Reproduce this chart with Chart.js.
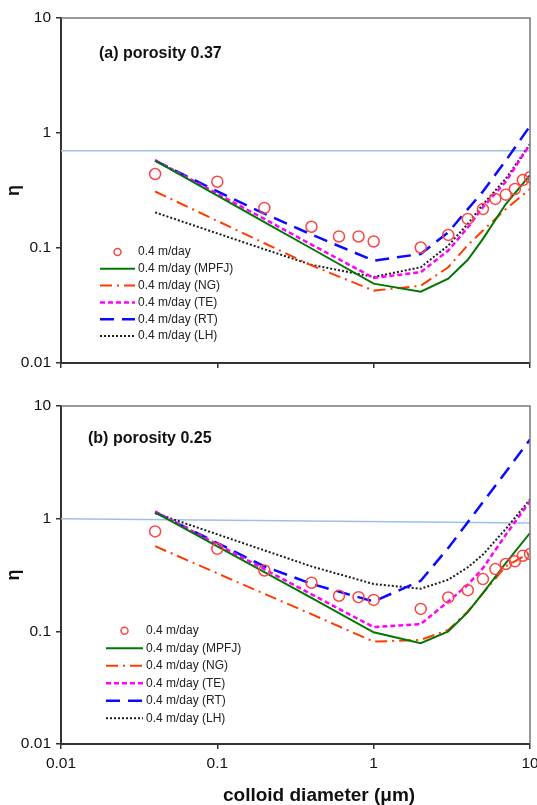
<!DOCTYPE html>
<html>
<head>
<meta charset="utf-8">
<script src="https://cdn.jsdelivr.net/npm/chart.js@4"></script>
<style>
  body { margin: 0; background: #fff; }
  #wrap { position: relative; width: 537px; height: 805px; font-family: 'Liberation Sans', Arial, sans-serif; }
  .panel { position: absolute; left: 0; width: 537px; }
  #boxA { top: 0; height: 385px; }
  #boxB { top: 385px; height: 420px; }
  .lbl { position: absolute; font-weight: bold; font-size: 16px; color: #111; white-space: nowrap; line-height: normal; }
</style>
</head>
<body>
<div id="wrap">
  <div class="panel" id="boxA"><canvas id="chartA"></canvas></div>
  <div class="panel" id="boxB"><canvas id="chartB"></canvas></div>
  <div class="lbl" style="left:99px; top:44px;">(a) porosity 0.37</div>
  <div class="lbl" style="left:88px; top:429px;">(b) porosity 0.25</div>
  <div class="lbl" style="left:223px; top:784px; font-size:19px;">colloid diameter (μm)</div>
</div>
<script>
// colloid diameters (um)
const diamLine = [0.04, 0.1, 0.2, 0.4, 1, 2, 3, 4, 5, 7, 10];
const diamObs = [0.04, 0.1, 0.2, 0.4, 0.6, 0.8, 1, 2, 3, 4, 5, 6, 7, 8, 9, 10];
const refDiam = [0.01, 10];
const decades = [0.01, 0.1, 1, 10];

// (a) porosity 0.37
const obsA  = [0.44, 0.377, 0.223, 0.153, 0.126, 0.126, 0.114, 0.101, 0.13, 0.179, 0.218, 0.267, 0.291, 0.326, 0.39, 0.412];
const mpfjA = [0.575, 0.286, 0.168, 0.099, 0.049, 0.0417, 0.054, 0.079, 0.12, 0.241, 0.43];
const ngA   = [0.31, 0.172, 0.110, 0.0706, 0.0426, 0.047, 0.068, 0.106, 0.142, 0.218, 0.326];
const teA   = [0.58, 0.296, 0.179, 0.107, 0.055, 0.0616, 0.095, 0.151, 0.226, 0.377, 0.80];
const rtA   = [0.575, 0.31, 0.199, 0.131, 0.0776, 0.0887, 0.137, 0.218, 0.31, 0.575, 1.15];
const lhA   = [0.204, 0.134, 0.0975, 0.0714, 0.056, 0.068, 0.105, 0.162, 0.24, 0.40, 0.80];
const refA  = [0.70, 0.70];

// (b) porosity 0.25
const obsB  = [0.77, 0.54, 0.347, 0.27, 0.207, 0.201, 0.19, 0.158, 0.2, 0.232, 0.291, 0.357, 0.396, 0.418, 0.469, 0.485];
const mpfjB = [1.14, 0.569, 0.336, 0.198, 0.098, 0.0785, 0.10, 0.148, 0.218, 0.404, 0.746];
const ngB   = [0.57, 0.327, 0.215, 0.142, 0.081, 0.084, 0.103, 0.15, 0.218, 0.377, 0.50];
const teB   = [1.16, 0.591, 0.356, 0.213, 0.109, 0.116, 0.184, 0.259, 0.364, 0.72, 1.43];
const rtB   = [1.14, 0.608, 0.377, 0.264, 0.184, 0.281, 0.55, 0.93, 1.4, 2.6, 5.04];
const lhB   = [1.12, 0.726, 0.523, 0.377, 0.263, 0.239, 0.287, 0.37, 0.48, 0.81, 1.48];
const refB  = [1.0, 0.915];

const FONT = "'Liberation Sans', Arial, sans-serif";
Chart.defaults.font.family = FONT;
Chart.defaults.color = '#111';

function pts(xs, ys) {
  return xs.map((d, i) => ({ x: d, y: ys[i] }));
}

function curve(label, ys, color, dash, width) {
  return {
    label: label, data: pts(diamLine, ys), showLine: true,
    borderColor: color, backgroundColor: color, borderDash: dash,
    borderWidth: width, pointRadius: 0, tension: 0
  };
}

function makeDatasets(obs, mpfj, ng, te, rt, lh, ref) {
  return [
    { label: '0.4 m/day', data: pts(diamObs, obs), showLine: false,
      pointStyle: 'circle', pointRadius: 5.5, pointBorderWidth: 1.5,
      pointBorderColor: 'rgb(250,70,70)', pointBackgroundColor: 'rgba(0,0,0,0)',
      borderColor: 'rgb(250,70,70)' },
    curve('0.4 m/day (MPFJ)', mpfj, 'rgb(0,120,0)', [], 2),
    curve('0.4 m/day (NG)', ng, 'rgb(255,60,0)', [12, 5, 2, 5], 2),
    curve('0.4 m/day (TE)', te, 'rgb(255,0,255)', [5, 3], 2.5),
    curve('0.4 m/day (RT)', rt, 'rgb(10,10,255)', [14, 8], 2.5),
    curve('0.4 m/day (LH)', lh, 'rgb(30,30,30)', [2, 2], 2),
    { label: 'ref', data: pts(refDiam, ref), showLine: true, hideInLegend: true,
      borderColor: 'rgb(155,194,230)', borderWidth: 1.5, pointRadius: 0 }
  ];
}

// top and right frame lines of the plot area
const framePlugin = {
  id: 'frame',
  afterDraw(chart) {
    const a = chart.chartArea, ctx = chart.ctx;
    ctx.save();
    ctx.strokeStyle = '#777';
    ctx.lineWidth = 1.5;
    ctx.beginPath();
    ctx.moveTo(a.left, a.top);
    ctx.lineTo(a.right, a.top);
    ctx.lineTo(a.right, a.bottom);
    ctx.stroke();
    ctx.restore();
  }
};

// legend inside the plot area
const innerLegend = {
  id: 'innerLegend',
  afterDraw(chart, args, opts) {
    const ctx = chart.ctx;
    ctx.save();
    ctx.font = '12px ' + FONT;
    ctx.textBaseline = 'middle';
    let row = 0;
    chart.data.datasets.forEach(ds => {
      if (ds.hideInLegend) return;
      const y = opts.y + row * opts.step;
      if (ds.showLine === false) {
        ctx.beginPath();
        ctx.arc(opts.x + opts.sample / 2, y, 3.5, 0, Math.PI * 2);
        ctx.strokeStyle = ds.pointBorderColor;
        ctx.lineWidth = 1.5;
        ctx.stroke();
      } else {
        ctx.beginPath();
        ctx.setLineDash(ds.borderDash);
        ctx.strokeStyle = ds.borderColor;
        ctx.lineWidth = ds.borderWidth;
        ctx.moveTo(opts.x, y);
        ctx.lineTo(opts.x + opts.sample, y);
        ctx.stroke();
        ctx.setLineDash([]);
      }
      ctx.fillStyle = '#222';
      ctx.fillText(ds.label, opts.x + opts.sample + 3, y);
      row++;
    });
    ctx.restore();
  }
};

function logAxis(showLabels, fitSize, isY) {
  const axis = {
    type: 'logarithmic', min: 0.01, max: 10,
    afterBuildTicks: s => { s.ticks = decades.map(v => ({ value: v })); },
    afterFit: s => {
      if (isY) s.width = fitSize; else s.height = fitSize;
      s.paddingLeft = 0; s.paddingRight = 0; s.paddingTop = 0; s.paddingBottom = 0;
    },
    ticks: { display: showLabels, padding: 5, color: '#111', font: { size: 15.5 },
      callback: v => String(v), maxRotation: 0 },
    grid: { drawOnChartArea: false, drawTicks: true, tickLength: 5, color: '#333', lineWidth: 1.5 },
    border: { color: '#333', width: 2 }
  };
  if (isY) {
    axis.title = { display: true, text: 'η', color: '#111',
      font: { size: 18, weight: 'bold' }, padding: { top: 3, bottom: 0 } };
  }
  return axis;
}

function createChart(id, datasets, padTop, xHeight, showX, legendPos) {
  return new Chart(document.getElementById(id), {
    type: 'scatter',
    data: { datasets: datasets },
    options: {
      responsive: true, maintainAspectRatio: false, animation: false,
      devicePixelRatio: 1,
      layout: { padding: { top: padTop, right: 7, left: 0, bottom: 0 } },
      scales: {
        x: logAxis(showX, xHeight, false),
        y: logAxis(true, 61, true)
      },
      plugins: {
        legend: { display: false },
        tooltip: { enabled: false },
        innerLegend: legendPos
      }
    },
    plugins: [framePlugin, innerLegend]
  });
}

createChart('chartA', makeDatasets(obsA, mpfjA, ngA, teA, rtA, lhA, refA), 18, 22, false,
  { x: 100, y: 252, step: 16.8, sample: 35 });
createChart('chartB', makeDatasets(obsB, mpfjB, ngB, teB, rtB, lhB, refB), 21, 61, true,
  { x: 106, y: 245.7, step: 17.5, sample: 37 });
</script>
</body>
</html>
